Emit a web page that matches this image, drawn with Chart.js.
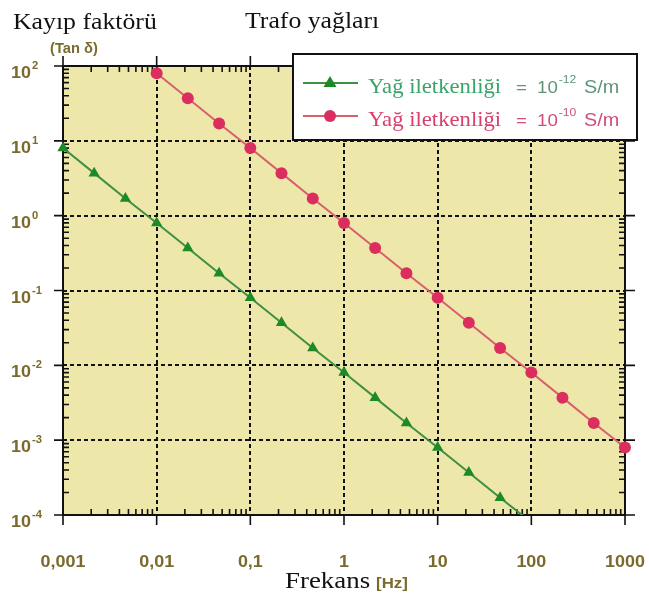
<!DOCTYPE html>
<html>
<head>
<meta charset="utf-8">
<script src="https://cdn.jsdelivr.net/npm/chart.js@4"></script>
<style>
html,body{margin:0;padding:0;background:#fff;}
#wrap{width:649px;height:596px;position:relative;}
</style>
</head>
<body>
<div id="wrap"><canvas id="c" width="649" height="596"></canvas></div>
<script>
// ---- data ----
const freqGreen = [0.001,0.00215,0.00464,0.01,0.0215,0.0464,0.1,0.215,0.464,1,2.15,4.64,10,21.5,46.4,100];
const tanGreen  = [8,3.7,1.7,0.8,0.37,0.17,0.08,0.037,0.017,0.008,0.0037,0.0017,0.0008,0.00037,0.00017,0.00008];
const freqRed   = [0.01,0.0215,0.0464,0.1,0.215,0.464,1,2.15,4.64,10,21.5,46.4,100,215,464,1000];
const tanRed    = [80,37,17,8,3.7,1.7,0.8,0.37,0.17,0.08,0.037,0.017,0.008,0.0037,0.0017,0.0008];
const xTickValues = [0.001,0.01,0.1,1,10,100,1000];
const xTickLabels = ['0,001','0,01','0,1','1','10','100','1000'];
const yTickValues = [100,10,1,0.1,0.01,0.001,0.0001];
const yTickExponents = ['2','1','0','-1','-2','-3','-4'];
const seriesNames = ['Yağ iletkenliği','Yağ iletkenliği'];
const seriesValueExp = ['-12','-10'];
const titleLeft = 'Kayıp faktörü';
const titleLeftSub = '(Tan δ)';
const titleCenter = 'Trafo yağları';
const xTitle = 'Frekans';
const xUnit = '[Hz]';

const OLIVE = '#7a6a2c';
const GREEN_LINE = '#3f8f44';
const GREEN_PT = '#1c8a26';
const RED_LINE = '#d8606c';
const RED_PT = '#dc2e5e';

function isDecade(v){const l=Math.log10(v);return Math.abs(l-Math.round(l))<1e-6;}

function stxt(ctx, s, x, y, font, color, align, sx){
  sx = sx || 1.12;
  ctx.save();
  ctx.font = font; ctx.fillStyle = color; ctx.textAlign='left'; ctx.textBaseline='alphabetic';
  const w = ctx.measureText(s).width*sx;
  let x0 = x;
  if(align==='center') x0 = x-w/2; else if(align==='right') x0 = x-w;
  ctx.translate(x0,y); ctx.scale(sx,1); ctx.fillText(s,0,0);
  ctx.restore();
  return w;
}

const bgPlugin = {
  id:'bg',
  beforeDraw(chart){
    const {ctx, chartArea:a} = chart;
    ctx.save(); ctx.fillStyle='#eee7aa'; ctx.fillRect(a.left,a.top,a.right-a.left,a.bottom-a.top); ctx.restore();
  },
  beforeDatasetsDraw(chart){
    const {ctx, chartArea:a, scales:{x,y}} = chart;
    ctx.save();
    ctx.strokeStyle='#111'; ctx.lineWidth=2;
    ctx.strokeRect(a.left,a.top,a.right-a.left,a.bottom-a.top);
    ctx.lineWidth=1.6;
    ctx.beginPath();
    // major ticks outward
    xTickValues.forEach(v=>{
      const px = x.getPixelForValue(v);
      ctx.moveTo(px,a.bottom); ctx.lineTo(px,a.bottom+10);
      ctx.moveTo(px,a.top); ctx.lineTo(px,a.top-10);
    });
    yTickValues.forEach(v=>{
      const py = y.getPixelForValue(v);
      ctx.moveTo(a.left,py); ctx.lineTo(a.left-9,py);
      ctx.moveTo(a.right,py); ctx.lineTo(a.right+10,py);
    });
    // minor ticks inward
    for(let e=-3;e<3;e++){
      for(let m=2;m<=9;m++){
        const v = m*Math.pow(10,e);
        const px = x.getPixelForValue(v);
        ctx.moveTo(px,a.bottom); ctx.lineTo(px,a.bottom-6);
        ctx.moveTo(px,a.top); ctx.lineTo(px,a.top+6);
      }
    }
    for(let e=-4;e<2;e++){
      for(let m=2;m<=9;m++){
        const v = m*Math.pow(10,e);
        const py = y.getPixelForValue(v);
        ctx.moveTo(a.left,py); ctx.lineTo(a.left+6,py);
        ctx.moveTo(a.right,py); ctx.lineTo(a.right-6,py);
      }
    }
    ctx.stroke();
    ctx.restore();
  },
  afterDraw(chart){
    const {ctx, chartArea:a, scales:{x,y}} = chart;
    // x tick labels
    xTickValues.forEach((v,i)=>{
      stxt(ctx, xTickLabels[i], x.getPixelForValue(v), 567, 'bold 16px "Liberation Sans", Arial, sans-serif', OLIVE, 'center', 1.12);
    });
    // y tick labels
    yTickValues.forEach((v,i)=>{
      const py = y.getPixelForValue(v);
      const w = stxt(ctx, '10', 11, py+12, 'bold 16px "Liberation Sans", Arial, sans-serif', OLIVE, 'left', 1.12);
      stxt(ctx, yTickExponents[i], 11+w+1, py+3, 'bold 10px "Liberation Sans", Arial, sans-serif', OLIVE, 'left', 1.12);
    });
    // titles
    stxt(ctx, titleLeft, 13, 29, '23px "Liberation Serif", "Times New Roman", serif', '#111', 'left', 1.12);
    stxt(ctx, titleLeftSub, 50, 53, 'bold 14px "Liberation Sans", Arial, sans-serif', OLIVE, 'left', 1.05);
    stxt(ctx, titleCenter, 245, 28, '23px "Liberation Serif", "Times New Roman", serif', '#111', 'left', 1.12);
    const fw = stxt(ctx, xTitle, 285, 588, '24px "Liberation Serif", "Times New Roman", serif', '#111', 'left', 1.12);
    stxt(ctx, xUnit, 285+fw+6, 588, 'bold 15px "Liberation Sans", Arial, sans-serif', OLIVE, 'left', 1.12);

    // legend box
    ctx.save();
    ctx.fillStyle='#fff'; ctx.fillRect(293,54,344,86);
    ctx.strokeStyle='#111'; ctx.lineWidth=2; ctx.strokeRect(293,54,344,86);
    ctx.restore();
    const rows = [
      {y:83, line:GREEN_LINE, pt:GREEN_PT, style:'triangle', txt:'#3aa466', val:'#5f947a'},
      {y:116, line:RED_LINE, pt:RED_PT, style:'circle', txt:'#d8406a', val:'#cf4f78'}
    ];
    rows.forEach((r,i)=>{
      ctx.save();
      ctx.strokeStyle=r.line; ctx.lineWidth=2;
      ctx.beginPath(); ctx.moveTo(303,r.y); ctx.lineTo(358,r.y); ctx.stroke();
      ctx.fillStyle=r.pt;
      ctx.beginPath();
      if(r.style==='triangle'){ctx.moveTo(330,r.y-7);ctx.lineTo(336.5,r.y+4);ctx.lineTo(323.5,r.y+4);ctx.closePath();}
      else {ctx.arc(330,r.y,6,0,Math.PI*2);}
      ctx.fill();
      ctx.restore();
      const base = r.y+10;
      stxt(ctx, seriesNames[i], 368, base, '21px "Liberation Serif", "Times New Roman", serif', r.txt, 'left', 1.08);
      stxt(ctx, '=', 516, base, '17px "Liberation Sans", Arial, sans-serif', r.val, 'left', 1.1);
      const w10 = stxt(ctx, '10', 537, base, '17px "Liberation Sans", Arial, sans-serif', r.val, 'left', 1.1);
      stxt(ctx, seriesValueExp[i], 537+w10+1, base-10, '11px "Liberation Sans", Arial, sans-serif', r.val, 'left', 1.1);
      stxt(ctx, 'S/m', 584, base, '18px "Liberation Sans", Arial, sans-serif', r.val, 'left', 1.1);
    });
  }
};

new Chart(document.getElementById('c'), {
  type:'line',
  data:{
    datasets:[
      {
        label: seriesNames[0]+' = 10^-12 S/m',
        data: freqGreen.map((f,i)=>({x:f,y:tanGreen[i]})),
        borderColor: GREEN_LINE, backgroundColor: GREEN_PT, borderWidth:2,
        pointStyle:'triangle',
        pointRadius: freqGreen.map((f,i)=> i===freqGreen.length-1 ? 0 : 6.5),
        pointBorderWidth:0, pointBackgroundColor: GREEN_PT,
        tension:0, clip:{left:10,right:10,top:10,bottom:0}
      },
      {
        label: seriesNames[1]+' = 10^-10 S/m',
        data: freqRed.map((f,i)=>({x:f,y:tanRed[i]})),
        borderColor: RED_LINE, backgroundColor: RED_PT, borderWidth:2,
        pointStyle:'circle', pointRadius:6,
        pointBorderWidth:0, pointBackgroundColor: RED_PT,
        tension:0, clip:{left:10,right:10,top:10,bottom:0}
      }
    ]
  },
  options:{
    responsive:false, animation:false,
    layout:{padding:{left:63,right:24,top:66,bottom:81}},
    plugins:{legend:{display:false}, tooltip:{enabled:false}},
    scales:{
      x:{
        type:'logarithmic', min:0.001, max:1000,
        ticks:{display:false},
        grid:{drawTicks:false, lineWidth:2,
          color: c => (c.tick && isDecade(c.tick.value) && c.tick.value>0.001 && c.tick.value<1000) ? '#111' : 'rgba(0,0,0,0)'},
        border:{display:false, dash:[4,3]}
      },
      y:{
        type:'logarithmic', min:0.0001, max:100,
        ticks:{display:false},
        grid:{drawTicks:false, lineWidth:2,
          color: c => (c.tick && isDecade(c.tick.value) && c.tick.value>0.0001 && c.tick.value<100) ? '#111' : 'rgba(0,0,0,0)'},
        border:{display:false, dash:[4,3]}
      }
    }
  },
  plugins:[bgPlugin]
});
</script>
</body>
</html>
